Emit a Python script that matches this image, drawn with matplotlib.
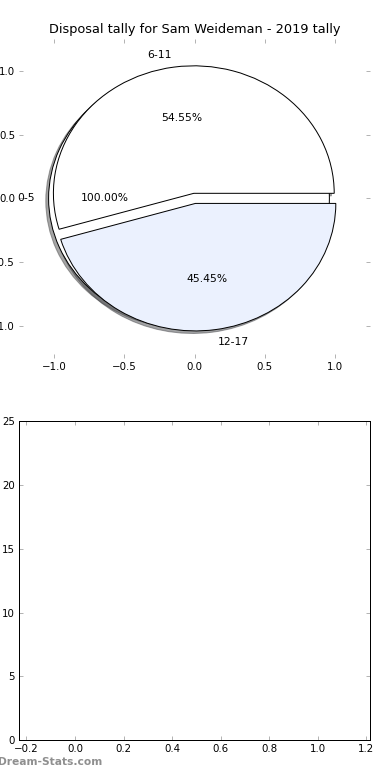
import matplotlib
matplotlib.use("Agg")
import matplotlib.pyplot as plt

# ── data ──────────────────────────────────────────────────────────────
title = "Disposal tally for Sam Weideman - 2019 tally"
first_bin = ["0-5"]
first_count = [1]
bins = ["6-11", "12-17"]
counts = [6, 5]
slice_colors = ["white", "#ebf1fe"]

pie_ticks = [-1.0, -0.5, 0.0, 0.5, 1.0]
bar_xticks = [-0.2, 0.0, 0.2, 0.4, 0.6, 0.8, 1.0, 1.2]
bar_yticks = [0, 5, 10, 15, 20, 25]

gap = 0.04
tick_grey = "#b4b4b4"

# ── figure ────────────────────────────────────────────────────────────
fig, (ax1, ax2) = plt.subplots(2, 1, figsize=(390 / 72, 780 / 72), dpi=72)
fig.subplots_adjust(left=0.049, right=0.949, top=0.95, bottom=0.051, hspace=0.2)

edge = {"edgecolor": "black", "linewidth": 1.0}
ax1.pie(first_count, labels=first_bin, explode=[gap], autopct="%.2f%%",
        shadow=True, colors=["white"], wedgeprops=edge,
        textprops={"fontsize": 10.7})
ax1.pie(counts, labels=bins, explode=[gap] * len(counts), autopct="%.2f%%",
        shadow=True, colors=slice_colors, wedgeprops=edge,
        textprops={"fontsize": 10.7})
ax1.set_aspect("auto")
ax1.set_frame_on(False)
ax1.set_xlim(-1.25, 1.25)
ax1.set_ylim(-1.25, 1.25)
ax1.set_xticks(pie_ticks)
ax1.set_yticks(pie_ticks)
ax1.set_title(title, fontsize=12.9)

# empty lower panel
ax2.set_xlim(-0.23, 1.215)
ax2.set_ylim(0, 25)
ax2.set_xticks(bar_xticks)
ax2.set_yticks(bar_yticks)
for sp in ax2.spines.values():
    sp.set_color("black")
    sp.set_linewidth(1.0)

for ax in (ax1, ax2):
    ax.tick_params(direction="in", top=True, right=True, length=4, width=1,
                   color=tick_grey, labelcolor="black", labelsize=10.3, pad=4)

fig.text(-0.006, 0.019, "Dream-Stats.com", color="#8f8f8f", fontsize=10.6,
         fontweight="bold")

fig.savefig("out.png", dpi=72, facecolor="white")
